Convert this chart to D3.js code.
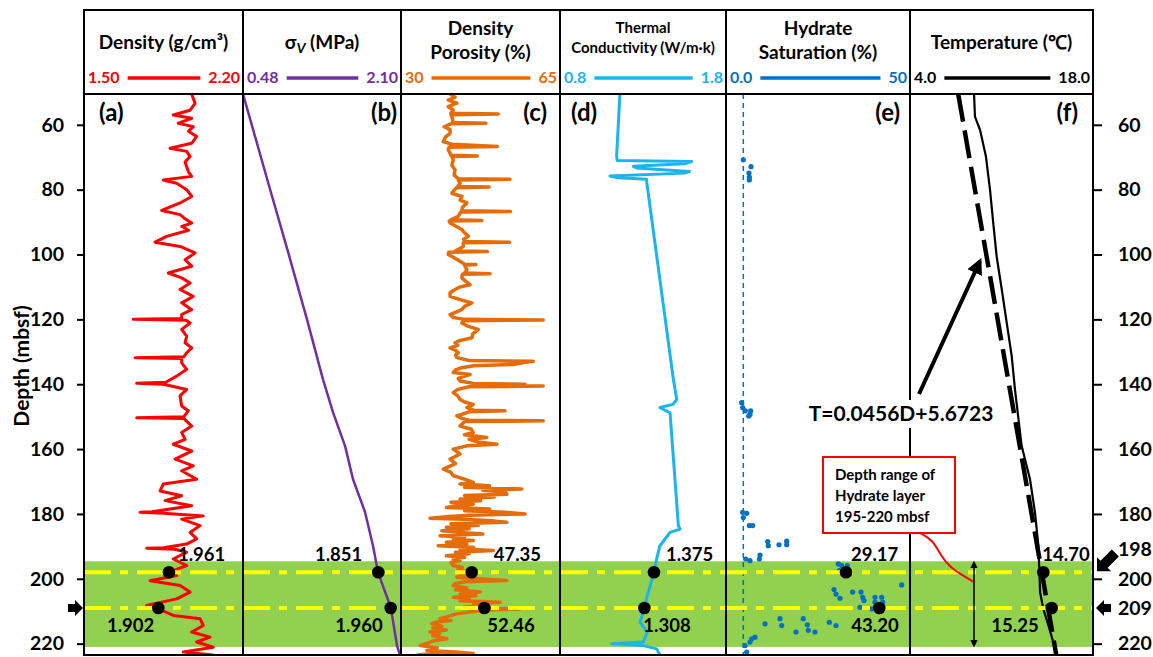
<!DOCTYPE html>
<html lang="en">
<head>
<meta charset="UTF-8">
<title>Well log panels</title>
<script src="https://d3js.org/d3.v7.min.js"></script>
<style>
  body { margin: 0; background: #fff; }
  svg text { font-family: Lato, "Open Sans", sans-serif; font-weight: bold; }
</style>
</head>
<body>
<svg id="chart" width="1153" height="657"></svg>
<script>
// ---- data (depth in mbsf, value in panel units) ----
const density = [[50.5,1.974],[53.4,1.989],[55.5,1.967],[56.96,1.893],[57.99,1.974],[59.5,1.915],[60.55,1.981],[62.0,1.96],[63.6,1.996],[65.7,1.974],[67.2,1.879],[68.2,1.952],[69.8,1.967],[71.5,1.945],[72.9,1.952],[74.5,1.96],[75.9,1.974],[77.0,1.849],[78.0,1.908],[80.0,1.952],[82.1,1.974],[84.1,1.923],[86.4,1.842],[87.7,1.923],[89.0,1.945],[90.3,1.974],[91.3,1.930],[92.5,1.96],[94.4,1.864],[96.2,1.813],[97.5,1.923],[99.5,1.989],[101.6,1.945],[103.6,1.974],[105.7,1.871],[107.2,1.930],[108.8,1.967],[110.8,1.923],[112.9,1.981],[114.9,1.930],[117.0,1.974],[118.5,1.930],[119.7,1.93],[120.0,1.717],[120.3,1.95],[121.1,1.967],[123.1,1.930],[125.2,1.952],[127.2,1.945],[128.8,1.974],[130.3,1.952],[131.5,1.94],[131.8,1.725],[132.1,1.93],[133.4,1.930],[135.4,1.952],[137.5,1.908],[139.4,1.86],[139.7,1.732],[140.0,1.85],[141.6,1.952],[143.6,1.923],[146.7,1.930],[148.2,1.959],[150.0,1.94],[150.3,1.732],[150.6,1.94],[152.9,1.974],[154.9,1.930],[157.0,1.945],[158.5,1.893],[160.6,1.974],[163.1,1.901],[165.2,1.981],[166.7,1.930],[169.3,1.996],[170.8,1.849],[172.9,1.835],[174.4,1.930],[175.9,1.857],[177.5,1.974],[179.3,1.80],[179.5,1.747],[179.8,1.85],[180.6,2.025],[181.6,1.930],[183.6,2.011],[185.7,1.967],[187.7,1.996],[189.3,1.952],[190.4,1.85],[190.6,1.776],[190.9,1.90],[191.8,1.952],[193.9,1.893],[195.9,1.952],[198.0,1.874],[199.0,1.908],[200.6,1.791],[202.1,1.923],[204.1,1.967],[206.2,1.908],[208.2,1.776],[209.0,1.827],[210.0,1.85],[211.3,1.893],[212.3,2.011],[214.4,2.025],[216.4,1.974],[218.0,2.055],[219.5,1.996],[221.1,2.069],[222.6,1.937],[223.5,2.069]];

const sigmaV = [[50.5,0.48],[78.8,0.747],[99.1,0.941],[120.0,1.136],[138.5,1.300],[148.7,1.403],[159.0,1.526],[169.3,1.608],[179.4,1.731],[189.8,1.813],[198.0,1.864],[209.0,1.997],[220.6,2.059],[223.5,2.090]];

const porosity = [[50.5,40.8],[51.5,41.9],[52.4,40.4],[53.3,42.3],[54.4,40.4],[55.5,41.5],[56.4,41.0],[56.65,51.4],[56.9,41.0],[57.5,41.2],[59.3,41.5],[59.5,48.7],[59.7,41.0],[60.6,39.5],[61.5,40.8],[62.6,40.8],[63.8,39.8],[65.2,39.3],[66.0,41.2],[66.7,51.2],[66.9,40.6],[67.7,40.4],[69.4,41.0],[69.6,46.8],[69.8,41.2],[70.8,41.5],[72.5,41.2],[73.9,41.9],[75.5,41.7],[76.6,42.6],[76.8,54.0],[77.0,42.6],[78.0,43.0],[79.0,42.5],[79.2,49.4],[79.4,42.2],[81.1,41.2],[82.1,43.4],[83.2,43.0],[84.1,44.5],[85.5,43.5],[86.5,43.4],[86.7,54.1],[86.9,43.2],[88.2,42.6],[89.3,41.0],[89.5,47.8],[89.7,40.6],[90.3,40.8],[91.2,42.0],[92.3,43.4],[93.3,44.0],[94.4,44.8],[95.3,43.8],[96.0,44.0],[96.2,53.9],[96.4,43.7],[97.5,43.7],[98.9,42.0],[99.1,49.0],[99.3,40.5],[100.0,40.4],[101.0,41.7],[102.1,43.0],[103.0,44.0],[103.1,46.5],[103.3,44.0],[104.7,44.5],[105.7,44.0],[105.9,49.6],[106.1,43.5],[107.2,43.4],[108.2,44.2],[109.3,45.2],[110.0,43.0],[110.8,41.9],[111.8,40.8],[112.9,40.8],[113.9,43.0],[114.9,45.6],[116.0,44.0],[117.0,43.4],[118.5,40.8],[119.4,41.5],[120.0,44.0],[120.2,61.3],[120.4,44.0],[121.1,43.4],[122.0,44.5],[123.1,47.0],[124.5,45.8],[125.7,45.6],[126.5,43.0],[127.2,41.9],[128.0,42.5],[128.8,40.8],[129.5,42.0],[130.3,42.6],[131.0,42.0],[131.8,42.3],[132.7,45.0],[132.9,59.1],[133.3,57.0],[133.9,54.7],[134.3,46.0],[134.9,43.4],[135.6,42.0],[136.4,41.5],[137.0,45.2],[137.5,44.0],[138.2,42.6],[139.0,43.0],[139.8,46.0],[140.0,57.3],[140.3,50.0],[140.55,61.3],[140.8,45.0],[141.6,42.5],[142.6,41.5],[143.6,42.5],[144.7,43.0],[145.5,44.0],[146.2,45.9],[147.2,44.5],[148.0,46.0],[148.2,52.9],[148.5,45.0],[149.8,42.3],[150.6,43.5],[151.1,45.0],[151.3,61.3],[151.5,44.0],[152.9,43.0],[153.9,45.5],[154.9,45.9],[155.6,44.0],[156.4,48.9],[157.0,45.0],[157.8,47.0],[158.5,51.1],[159.0,44.5],[160.0,41.5],[161.5,43.0],[163.1,40.8],[164.5,42.0],[166.2,39.3],[167.2,41.0],[168.2,41.5],[169.3,44.0],[170.3,45.9],[170.8,43.0],[171.3,49.5],[171.8,44.0],[172.3,56.6],[172.7,48.0],[173.2,53.0],[173.9,53.3],[174.3,44.0],[174.8,50.5],[175.4,43.0],[175.9,47.5],[176.4,41.0],[177.0,45.9],[177.5,42.0],[178.0,40.0],[178.5,49.5],[179.0,44.0],[179.5,53.0],[180.0,57.3],[180.4,45.0],[180.9,40.0],[181.3,36.4],[181.6,44.0],[182.1,50.0],[182.6,53.3],[183.0,41.0],[183.5,47.0],[184.1,40.0],[184.6,45.0],[185.2,39.0],[185.7,43.0],[186.2,48.0],[186.7,38.6],[187.2,44.0],[187.7,41.5],[188.2,45.9],[188.7,40.0],[189.3,44.5],[189.8,38.2],[190.3,46.0],[190.8,43.0],[191.3,50.3],[191.8,42.0],[192.3,45.0],[192.9,40.0],[193.4,44.0],[193.9,41.5],[194.4,43.0],[195.0,41.0],[195.9,41.5],[196.5,43.5],[197.2,42.5],[198.0,45.6],[198.7,43.5],[199.5,42.3],[200.0,47.0],[200.5,53.3],[200.9,44.0],[201.5,42.0],[202.1,41.5],[202.8,44.5],[203.4,42.0],[204.1,47.4],[204.7,43.0],[205.2,46.5],[205.7,41.5],[206.3,45.0],[206.8,43.0],[207.2,51.8],[207.7,46.0],[208.3,48.0],[208.7,44.0],[209.0,48.3],[209.3,56.2],[209.7,48.0],[210.3,44.5],[210.9,42.0],[211.6,40.5],[212.3,38.6],[212.9,41.0],[213.4,37.5],[213.9,36.8],[214.6,39.0],[215.2,37.0],[215.8,40.0],[216.4,36.4],[217.0,38.5],[217.6,37.0],[218.5,40.1],[219.2,37.0],[219.8,36.0],[220.6,34.2],[221.3,38.0],[222.1,35.7],[222.6,42.0],[223.0,45.9],[223.2,36.0],[223.5,33.5]];

const conductivity = [[50.5,1.161],[69.8,1.141],[71.0,1.145],[71.3,1.593],[72.0,1.55],[72.8,1.242],[73.3,1.26],[74.4,1.58],[74.9,1.55],[75.8,1.101],[76.3,1.15],[76.8,1.322],[77.5,1.322],[138.5,1.483],[144.7,1.503],[146.2,1.48],[147.2,1.402],[148.8,1.463],[183.6,1.513],[184.7,1.523],[185.7,1.463],[189.8,1.402],[193.9,1.382],[198.0,1.366],[205.2,1.326],[209.0,1.308],[213.4,1.282],[216.4,1.326],[219.5,1.302],[220.0,1.111],[220.6,1.302],[221.6,1.382],[223.5,1.402]];

const hydrate = [[70.8,4.71],[72.9,6.79],[74.9,6.25],[76.1,6.34],[77.0,6.34],[145.7,4.26],[147.2,4.53],[148.2,5.25],[148.2,6.70],[149.8,6.16],[149.3,6.52],[179.5,4.53],[179.8,5.62],[181.1,4.71],[183.6,6.34],[183.6,7.25],[193.9,5.35],[194.4,6.52],[193.9,9.06],[192.7,9.24],[188.5,11.33],[189.8,11.5],[189.5,14.4],[188.4,16.49],[189.5,16.49],[195.4,30.52],[195.9,31.43],[195.9,32.97],[197.5,30.8],[198.0,31.43],[198.5,33.51],[201.9,47.74],[203.3,29.35],[204.7,29.89],[206.0,30.98],[204.1,34.42],[204.1,36.68],[205.7,37.14],[206.7,37.5],[205.7,40.49],[205.7,42.31],[207.2,40.49],[207.2,42.58],[208.8,36.41],[209.3,39.59],[213.9,10.6],[212.3,14.67],[214.4,15.14],[216.4,19.02],[212.3,21.0],[214.2,22.1],[215.9,22.37],[216.4,24.18],[213.4,28.08],[214.4,29.89],[220.6,5.16],[219.5,6.52],[218.0,7.88],[222.6,5.62],[218.5,6.98]];
const hydrateRef = 4.7;

const temperature = [[50.5,8.9],[57.5,8.97],[61.6,9.36],[69.8,9.81],[80.0,10.12],[90.3,10.37],[100.6,10.63],[110.8,11.02],[121.1,11.40],[131.3,11.78],[141.6,12.03],[159.0,12.54],[169.3,13.18],[179.5,13.56],[189.8,13.82],[197.7,13.9],[204.1,13.95],[209.3,14.2],[214.4,14.59],[223.5,15.25]];
const tempFit = [[50.5,7.69],[223.5,15.19]];

const depthTicks = [60,80,100,120,140,160,180,200,220];
const rightTicks = [60,80,100,120,140,160,180,198,200,209,220];
const markerDepths = [198, 209];
const hydrateBand = [194.6, 221];

const titles = [["Density (g/cm³)"], ["σV (MPa)"], ["Density","Porosity (%)"], ["Thermal","Conductivity (W/m·k)"], ["Hydrate","Saturation (%)"], ["Temperature (℃)"]];
const legendMin = ["1.50","0.48","30","0.8","0.0","4.0"];
const legendMax = ["2.20","2.10","65","1.8","50","18.0"];
const letters = ["(a)","(b)","(c)","(d)","(e)","(f)"];
const markerValues = [[1.874,1.827],[1.867,1.994],[45.56,48.34],[1.366,1.308],[32.61,41.66],[14.2,14.84]];
const markerLabels = [["1.961","1.902"],["1.851","1.960"],["47.35","52.46"],["1.375","1.308"],["29.17","43.20"],["14.70","15.25"]];

// ---- layout ----
const colors = ["#ff0000","#7030a0","#e46c0a","#1cb4ec","#0070c0","#000000"];
const edges = [84, 243, 401, 560, 726, 910, 1093];
const plotTop = 94, plotBottom = 655, headTop = 10;
// label placement per panel & marker: [anchor, dx, dy]
const labelPos = [
  [["start",9,-11],["end",-4,24]],
  [["end",-16,-11],["end",-8,24]],
  [["start",22,-11],["start",3,24]],
  [["start",12,-11],["start",-1,24]],
  [["start",5,-11],["start",-28,24]],
  [["start",-1,-11],["end",-13,24]]
];
const letterPos = [["start",99],["end",397],["end",547],["start",571],["end",900],["end",1078]];

const svg = d3.select("#chart");
const y = d3.scaleLinear().domain([50.5, 223.5]).range([plotTop, plotBottom]);
const xs = legendMin.map((m, i) => d3.scaleLinear().domain([+m, +legendMax[i]]).range([edges[i], edges[i+1]]));

const defs = svg.append("defs");
defs.append("clipPath").attr("id", "plotclip").append("rect")
  .attr("x", edges[0]).attr("y", plotTop).attr("width", edges[6] - edges[0]).attr("height", plotBottom - plotTop);
const mk = (id, size) => defs.append("marker").attr("id", id)
  .attr("viewBox", "0 0 10 10").attr("refX", 8).attr("refY", 5)
  .attr("markerWidth", size).attr("markerHeight", size).attr("orient", "auto-start-reverse")
  .append("path").attr("d", "M0,0 L10,5 L0,10 Z").attr("fill", "#000");
mk("head", 4);
mk("headsmall", 5);

// green hydrate band
svg.append("rect")
  .attr("x", edges[0]).attr("width", edges[6] - edges[0])
  .attr("y", y(hydrateBand[0])).attr("height", y(hydrateBand[1]) - y(hydrateBand[0]))
  .attr("fill", "#92d050");

const plot = svg.append("g").attr("clip-path", "url(#plotclip)");
const lineFor = x => d3.line().x(d => x(d[1])).y(d => y(d[0]));

// hydrate reference dashed line
plot.append("line")
  .attr("x1", xs[4](hydrateRef)).attr("x2", xs[4](hydrateRef))
  .attr("y1", plotTop).attr("y2", plotBottom)
  .attr("stroke", colors[4]).attr("stroke-width", 1.5).attr("stroke-dasharray", "5,4");

const curves = [[density, 0, 3], [sigmaV, 1, 2.5], [porosity, 2, 3.5], [conductivity, 3, 3], [temperature, 5, 2.2]];
curves.forEach(([data, i, w]) => {
  plot.append("path").datum(data)
    .attr("d", lineFor(xs[i]))
    .attr("fill", "none").attr("stroke", colors[i])
    .attr("stroke-width", w).attr("stroke-linejoin", "round");
});
plot.append("path").datum(tempFit)
  .attr("d", lineFor(xs[5]))
  .attr("fill", "none").attr("stroke", "#000")
  .attr("stroke-width", 4.5).attr("stroke-dasharray", "28,9");

plot.selectAll(".hyd").data(hydrate).enter().append("circle")
  .attr("class", "hyd")
  .attr("cx", d => xs[4](d[1])).attr("cy", d => y(d[0])).attr("r", 2.6)
  .attr("fill", colors[4]);

// yellow dash-dot lines
markerDepths.forEach(dp => {
  svg.append("line")
    .attr("x1", edges[0]).attr("x2", edges[6])
    .attr("y1", y(dp)).attr("y2", y(dp))
    .attr("stroke", "#ffff00").attr("stroke-width", 4)
    .attr("stroke-dasharray", "27,9,8,9");
});

// frame and dividers
const frame = svg.append("g").attr("stroke", "#000").attr("stroke-width", 2).attr("fill", "none");
frame.append("rect").attr("x", edges[0]).attr("y", headTop)
  .attr("width", edges[6] - edges[0]).attr("height", plotBottom - headTop);
frame.append("line").attr("x1", edges[0]).attr("x2", edges[6]).attr("y1", plotTop).attr("y2", plotTop);
edges.slice(1, 6).forEach(e => {
  frame.append("line").attr("x1", e).attr("x2", e).attr("y1", headTop).attr("y2", plotBottom);
});

// marker dots and labels
markerValues.forEach((vals, i) => {
  vals.forEach((v, j) => {
    const cx = xs[i](v), cy = y(markerDepths[j]);
    svg.append("circle").attr("cx", cx).attr("cy", cy).attr("r", 6.3).attr("fill", "#000");
    const p = labelPos[i][j];
    svg.append("text").attr("x", cx + p[1]).attr("y", cy + p[2])
      .attr("text-anchor", p[0]).attr("font-size", 18.5).text(markerLabels[i][j]);
  });
});

// panel letters
letters.forEach((l, i) => {
  svg.append("text").attr("x", letterPos[i][1]).attr("y", 121)
    .attr("text-anchor", letterPos[i][0]).attr("font-size", 24).text(l);
});

// header titles
titles.forEach((lines, i) => {
  const cx = (edges[i] + edges[i+1]) / 2;
  const small = i === 3;
  const ys = lines.length === 1 ? [49] : (small ? [33, 53] : [35, 59]);
  lines.forEach((t, k) => {
    const txt = svg.append("text").attr("x", cx).attr("y", ys[k])
      .attr("text-anchor", "middle").attr("font-size", small ? 15 : 19);
    if (t.startsWith("σV")) {
      txt.append("tspan").text("σ");
      txt.append("tspan").attr("font-style", "italic").attr("font-size", 14).attr("dy", 4).text("V");
      txt.append("tspan").attr("dy", -4).text(" (MPa)");
    } else {
      txt.text(t);
    }
  });
  // legend row
  const lo = svg.append("text").attr("x", edges[i] + 4).attr("y", 83)
    .attr("font-size", 16).attr("fill", colors[i]).text(legendMin[i]);
  const hi = svg.append("text").attr("x", edges[i+1] - 3).attr("y", 83)
    .attr("text-anchor", "end").attr("font-size", 16).attr("fill", colors[i]).text(legendMax[i]);
  const loEnd = edges[i] + 4 + lo.node().getComputedTextLength();
  const hiStart = edges[i+1] - 3 - hi.node().getComputedTextLength();
  svg.append("line").attr("x1", loEnd + 8).attr("x2", hiStart - 8)
    .attr("y1", 78).attr("y2", 78).attr("stroke", colors[i]).attr("stroke-width", 3.5);
});

// axes
const axL = svg.append("g").attr("transform", `translate(${edges[0]},0)`)
  .call(d3.axisLeft(y).tickValues(depthTicks).tickSize(7).tickSizeOuter(0).tickPadding(13));
const axR = svg.append("g").attr("transform", `translate(${edges[6]},0)`)
  .call(d3.axisRight(y).tickValues(rightTicks).tickSize(9).tickSizeOuter(0).tickPadding(16));
[axL, axR].forEach(ax => {
  ax.select(".domain").remove();
  ax.selectAll("line").attr("stroke", "#000").attr("stroke-width", 2);
  ax.selectAll("text").attr("font-size", 19.5).attr("font-family", "Lato, 'Open Sans', sans-serif")
    .attr("font-weight", "bold").attr("fill", "#000");
});
axR.selectAll(".tick").filter(d => d === 198 || d === 209).select("line").remove();
axR.selectAll(".tick").filter(d => d === 198).select("text").attr("dy", "-0.85em");

svg.append("text").attr("transform", `translate(29,${366}) rotate(-90)`)
  .attr("text-anchor", "middle").attr("font-size", 21).text("Depth (mbsf)");

// block arrows at the marker depths
const blockArrow = "M0,0 L-8,-8 L-8,-4 L-15,-4 L-15,4 L-8,4 L-8,8 Z";
svg.append("path").attr("d", blockArrow).attr("fill", "#000")
  .attr("transform", `translate(83,${y(209)})`);
svg.append("path").attr("d", blockArrow).attr("fill", "#000")
  .attr("transform", `translate(1096,${y(209)}) rotate(180)`);
svg.append("path").attr("d", "M0,0 L-10,-10 L-10,-5 L-26,-5 L-26,5 L-10,5 L-10,10 Z").attr("fill", "#000")
  .attr("transform", `translate(1097,${y(198) - 1}) rotate(135)`);

// regression annotation
svg.append("line").attr("x1", 919).attr("y1", 394).attr("x2", 980).attr("y2", 261)
  .attr("stroke", "#000").attr("stroke-width", 4).attr("marker-end", "url(#head)");
svg.append("rect").attr("x", 805).attr("y", 400).attr("width", 192).attr("height", 28).attr("fill", "#fff");
svg.append("text").attr("x", 901).attr("y", 421).attr("text-anchor", "middle")
  .attr("font-size", 21).text("T=0.0456D+5.6723");

// hydrate layer annotation
svg.append("path")
  .attr("d", d3.line().curve(d3.curveBasis)([[920,533],[933,540],[941,556],[950,567],[962,575],[974,582]]))
  .attr("fill", "none").attr("stroke", "#ff0000").attr("stroke-width", 2);
svg.append("rect").attr("x", 823).attr("y", 457).attr("width", 132).attr("height", 76)
  .attr("fill", "#fff").attr("stroke", "#ff0000").attr("stroke-width", 2);
["Depth range of", "Hydrate layer", "195-220 mbsf"].forEach((t, k) => {
  svg.append("text").attr("x", 835).attr("y", 480 + k * 21).attr("font-size", 15).text(t);
});
svg.append("line").attr("x1", 974).attr("x2", 974)
  .attr("y1", y(hydrateBand[0]) + 1).attr("y2", y(hydrateBand[1]) - 1)
  .attr("stroke", "#000").attr("stroke-width", 1.5)
  .attr("marker-start", "url(#headsmall)").attr("marker-end", "url(#headsmall)");
</script>
</body>
</html>
